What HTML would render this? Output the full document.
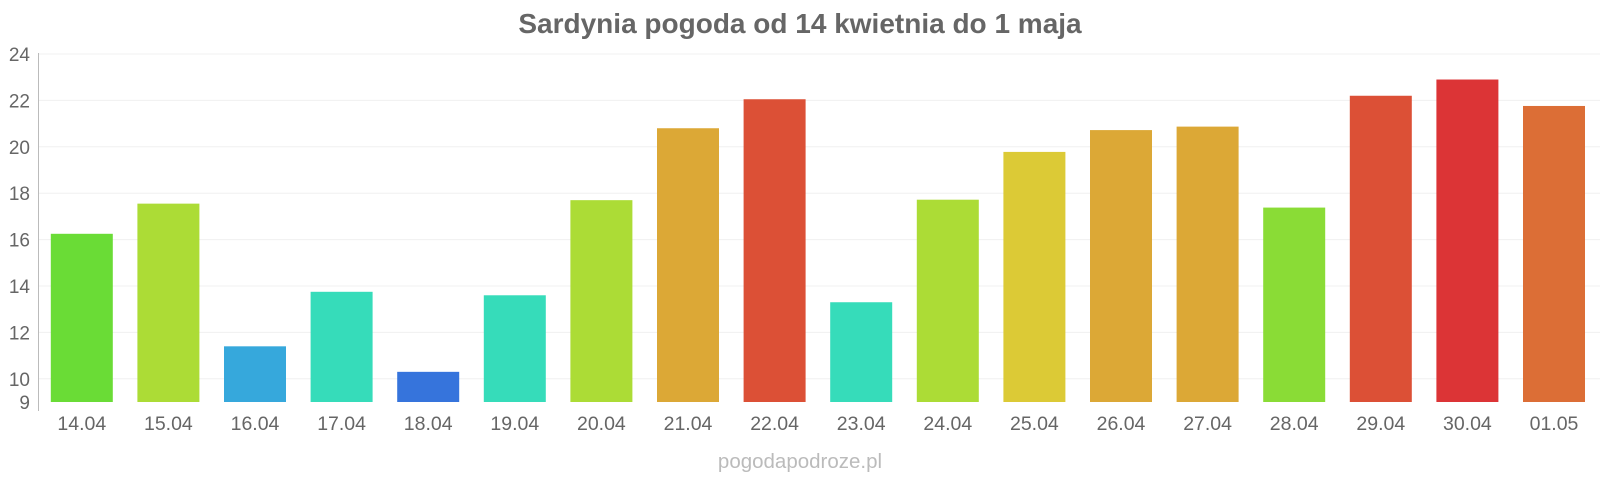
<!DOCTYPE html>
<html><head><meta charset="utf-8"><style>
body{margin:0;background:#fff;}
svg text{font-family:"Liberation Sans",sans-serif;}
</style></head><body>
<svg width="1600" height="480" xmlns="http://www.w3.org/2000/svg">
<text x="800" y="33" text-anchor="middle" font-size="28" font-weight="bold" fill="#666">Sardynia pogoda od 14 kwietnia do 1 maja</text>
<g id="grid" stroke="#f0f0f0" stroke-width="1">
</g>
<g id="bars"></g>
<line x1="38.5" y1="53" x2="38.5" y2="411" stroke="#bbb" stroke-width="1"/>
<g id="yl" font-size="19" fill="#666" text-anchor="end"></g>
<g id="xl" font-size="19.5" fill="#666" text-anchor="middle"></g>
<text x="800" y="468" text-anchor="middle" font-size="20.5" fill="#bbb">pogodapodroze.pl</text>
</svg>
<script>
var ns="http://www.w3.org/2000/svg";
function y(v){return 402-(v-9)*23.2;}
function el(t,a,p,txt){var e=document.createElementNS(ns,t);for(var k in a)e.setAttribute(k,a[k]);if(txt)e.textContent=txt;document.getElementById(p).appendChild(e);}
[10,12,14,16,18,20,22,24].forEach(function(v){el('line',{x1:39,x2:1600,y1:y(v),y2:y(v)},'grid');});
[9,10,12,14,16,18,20,22,24].forEach(function(v){el('text',{x:30,y:y(v)+7},'yl',String(v));});
var d=[["14.04",16.25,"#6adc36"],["15.04",17.55,"#acdc36"],["16.04",11.4,"#36a8dc"],["17.04",13.75,"#36dcba"],["18.04",10.3,"#3674dc"],["19.04",13.6,"#36dcba"],["20.04",17.7,"#acdc36"],["21.04",20.8,"#dca836"],["22.04",22.05,"#dc5036"],["23.04",13.3,"#36dcba"],["24.04",17.72,"#acdc36"],["25.04",19.78,"#dcca36"],["26.04",20.72,"#dca836"],["27.04",20.87,"#dca836"],["28.04",17.38,"#8adc36"],["29.04",22.2,"#dc5036"],["30.04",22.9,"#dc3436"],["01.05",21.76,"#dc6e36"]];
d.forEach(function(b,i){var c=81.8+86.6*i;el('rect',{x:c-31,y:y(b[1]),width:62,height:402-y(b[1]),fill:b[2]},'bars');el('text',{x:c,y:430},'xl',b[0]);});
</script>
</body></html>
